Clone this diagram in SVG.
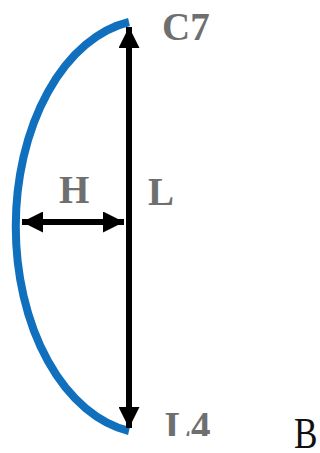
<svg xmlns="http://www.w3.org/2000/svg" width="320" height="453" viewBox="0 0 320 453">
<style>
.lbl{font-family:"Liberation Serif","Times New Roman",serif;font-weight:bold;font-size:39px;fill:#6f6f6f}
.arr{stroke:#000;stroke-width:6;fill:none}
</style>
<defs>
<marker id="ah" markerUnits="userSpaceOnUse" markerWidth="21" markerHeight="21" viewBox="0 0 21 21" refX="21" refY="10.5" orient="auto-start-reverse">
<path d="M0,0 L21,10.5 L0,21 Z" fill="#000"/>
</marker>
<clipPath id="cl"><rect x="0" y="0" width="320" height="436"/></clipPath>
</defs>
<rect width="320" height="453" fill="#fff"/>
<g id="curve">
<path d="M129,22 A134,207 0 0 0 129,431" fill="none" stroke="#1170bd" stroke-width="8"/>
</g>
<g id="connectors">
<line class="arr" x1="129" y1="27" x2="129" y2="428" marker-start="url(#ah)" marker-end="url(#ah)"/>
<line class="arr" x1="22" y1="222" x2="124" y2="222" marker-start="url(#ah)" marker-end="url(#ah)"/>
</g>
<g id="c7"><text class="lbl" x="162" y="40">C7</text></g>
<g id="h"><text class="lbl" x="59" y="203">H</text></g>
<g id="l"><text class="lbl" x="148" y="205">L</text></g>
<g id="l4" clip-path="url(#cl)"><text class="lbl" x="165" y="439">L4</text></g>
<g id="b"><text transform="translate(294,448) scale(0.8,1)" font-family="Liberation Serif, Times New Roman, serif" font-size="44" fill="#111">B</text></g>
</svg>
